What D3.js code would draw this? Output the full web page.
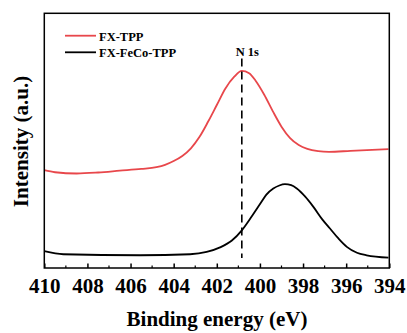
<!DOCTYPE html>
<html><head><meta charset="utf-8">
<script src="https://cdn.jsdelivr.net/npm/d3@7"></script>
<style>body{margin:0;background:#fff}svg{display:block}text{font-family:"Liberation Serif","DejaVu Serif",serif;font-weight:bold}</style>
</head><body>
<script>
const seriesNames = ["FX-TPP", "FX-FeCo-TPP"];
const seriesColors = ["#e8474b", "#000000"];
const redX = [410, 409.5, 408.5, 407.5, 406.5, 405.5, 404.8, 404.4, 404.0, 403.6, 403.2, 402.8, 402.4, 402.0, 401.6, 401.2, 400.84, 400.5, 400.2, 399.8, 399.4, 399.0, 398.6, 398.2, 397.8, 397.3, 396.8, 395.8, 394.04];
const redY = [38.4, 37.6, 37.1, 37.5, 38.2, 38.9, 39.6, 40.5, 42.0, 44.0, 47.0, 51.5, 57.5, 64.0, 70.5, 75.0, 77.4, 76.5, 73.5, 68.0, 61.5, 55.5, 51.0, 48.3, 46.8, 45.9, 45.6, 46.0, 46.7];
const blackX = [410, 409.12, 405.56, 403.24, 402.47, 401.85, 401.3, 400.84, 400.4, 399.98, 399.7, 399.38, 399.1, 398.84, 398.55, 398.29, 397.9, 397.52, 397.1, 396.75, 396.35, 395.97, 395.5, 395.05, 394.04];
const blackY = [6.6, 5.4, 5.0, 5.4, 6.3, 8.1, 10.8, 14.8, 20.0, 25.3, 28.8, 31.2, 32.4, 32.9, 32.5, 31.2, 28.0, 24.0, 19.0, 15.5, 11.5, 8.3, 6.0, 5.0, 4.1];
const xTicks = [410, 408, 406, 404, 402, 400, 398, 396, 394];
const refLine = 400.84;
const refLabel = "N 1s";

const W = 407, H = 333;
const m = {l: 44.3, r: 407 - 389.3, t: 13.3, b: 333 - 268};
const svg = d3.select("body").append("svg").attr("width", W).attr("height", H);
const x = d3.scaleLinear().domain([410, 394]).range([m.l, W - m.r]);
const y = d3.scaleLinear().domain([0, 100]).range([H - m.b, m.t]);

const line = d3.line().x(d => x(d[0])).y(d => y(d[1])).curve(d3.curveMonotoneX);
svg.append("path").datum(d3.zip(redX, redY)).attr("d", line)
  .attr("fill", "none").attr("stroke", seriesColors[0]).attr("stroke-width", 1.8);
svg.append("path").datum(d3.zip(blackX, blackY)).attr("d", line)
  .attr("fill", "none").attr("stroke", seriesColors[1]).attr("stroke-width", 1.8);

svg.append("line").attr("x1", x(refLine)).attr("x2", x(refLine))
  .attr("y1", 58.5).attr("y2", H - m.b - 10)
  .attr("stroke", "#000").attr("stroke-width", 1.6).attr("stroke-dasharray", "8,5");
svg.append("text").attr("x", x(refLine) + 5.5).attr("y", 55.7).attr("text-anchor", "middle")
  .attr("font-size", 12.5).text(refLabel);

svg.append("rect").attr("x", m.l).attr("y", m.t).attr("width", W - m.r - m.l).attr("height", H - m.b - m.t)
  .attr("fill", "none").attr("stroke", "#000").attr("stroke-width", 1.5);

const minor = d3.range(409, 394, -2);
const gx = svg.append("g").attr("transform", `translate(0,${H - m.b})`);
gx.call(d3.axisBottom(x).tickValues(xTicks).tickSize(-4.5).tickPadding(0).tickFormat(d3.format("d")));
gx.attr("font-family", null).attr("font-size", null);
gx.select(".domain").remove();
gx.selectAll(".tick line").attr("stroke-width", 1.5);
gx.selectAll(".tick text").attr("font-size", 21).attr("fill", "#000").attr("dy", null).attr("y", 25);
gx.selectAll(".minor").data(minor).enter().append("line").attr("class", "minor")
  .attr("x1", d => x(d)).attr("x2", d => x(d)).attr("y1", 0).attr("y2", -2.5)
  .attr("stroke", "#000").attr("stroke-width", 1.2);

svg.append("text").attr("x", 217).attr("y", 326).attr("text-anchor", "middle")
  .attr("font-size", 21).text("Binding energy (eV)");
svg.append("text").attr("transform", "translate(27.5,141.5) rotate(-90)").attr("text-anchor", "middle")
  .attr("font-size", 21).text("Intensity (a.u.)");

const ly = [35.7, 52.3];
const lty = [40.7, 56.7];
seriesNames.forEach((n, i) => {
  svg.append("line").attr("x1", 65).attr("x2", 96).attr("y1", ly[i]).attr("y2", ly[i])
    .attr("stroke", seriesColors[i]).attr("stroke-width", 1.8);
  svg.append("text").attr("x", 99).attr("y", lty[i]).attr("font-size", 12.5).text(n);
});
</script>
</body></html>
